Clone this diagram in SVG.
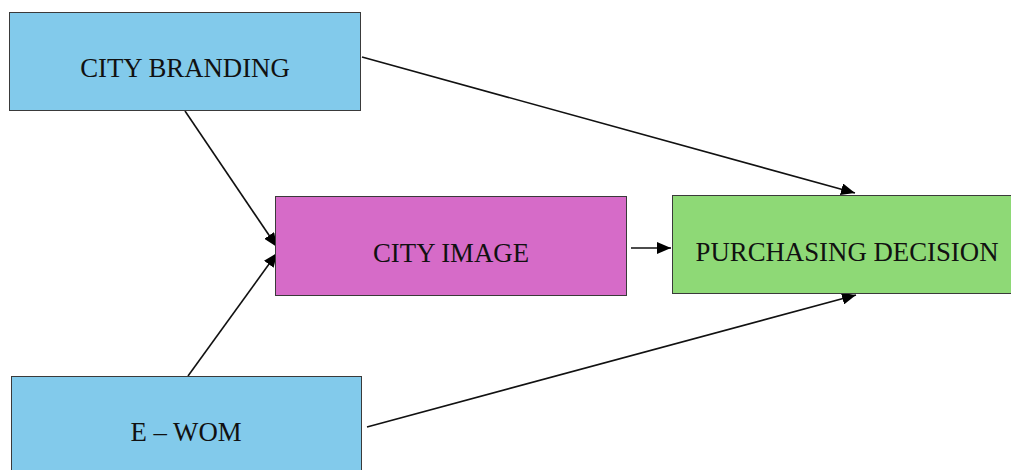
<svg xmlns="http://www.w3.org/2000/svg" width="1011" height="470" viewBox="0 0 1011 470">
  <style>
    .box { stroke: #3a3a3a; stroke-width: 1; }
    .blue { fill: #82CAEB; }
    .pink { fill: #D66BC8; }
    .green { fill: #8ED976; }
    .label { font-family: "Liberation Serif", "Times New Roman", serif; font-size: 26.8px; fill: #111; text-anchor: middle; }
    .conn { stroke: #111; stroke-width: 1.6; fill: none; marker-end: url(#arrow); }
  </style>
  <defs>
    <marker id="arrow" viewBox="0 0 14 12" refX="14" refY="6" markerWidth="14" markerHeight="12" markerUnits="userSpaceOnUse" orient="auto">
      <path d="M0,0 L14,6 L0,12 Z" fill="#000"/>
    </marker>
  </defs>

  <rect width="1011" height="470" fill="#fff"/>

  <g id="connectors">
    <line class="conn" x1="362" y1="57" x2="855" y2="193"/>
    <line class="conn" x1="185" y1="111" x2="277" y2="247"/>
    <line class="conn" x1="188" y1="376" x2="277" y2="253"/>
    <line class="conn" x1="631" y1="248" x2="671" y2="248"/>
    <line class="conn" x1="367" y1="427" x2="856" y2="295"/>
  </g>

  <g id="city-branding">
    <rect class="box blue" x="9.5" y="12.5" width="351" height="98"/>
    <text class="label" x="185" y="77">CITY BRANDING</text>
  </g>

  <g id="city-image">
    <rect class="box pink" x="275.5" y="196.5" width="351" height="99"/>
    <text class="label" x="451" y="262">CITY IMAGE</text>
  </g>

  <g id="purchasing-decision">
    <rect class="box green" x="672.5" y="195.5" width="350" height="98"/>
    <text class="label" x="847" y="261">PURCHASING DECISION</text>
  </g>

  <g id="e-wom">
    <rect class="box blue" x="11.5" y="376.5" width="350" height="110"/>
    <text class="label" x="186" y="441">E – WOM</text>
  </g>
</svg>
